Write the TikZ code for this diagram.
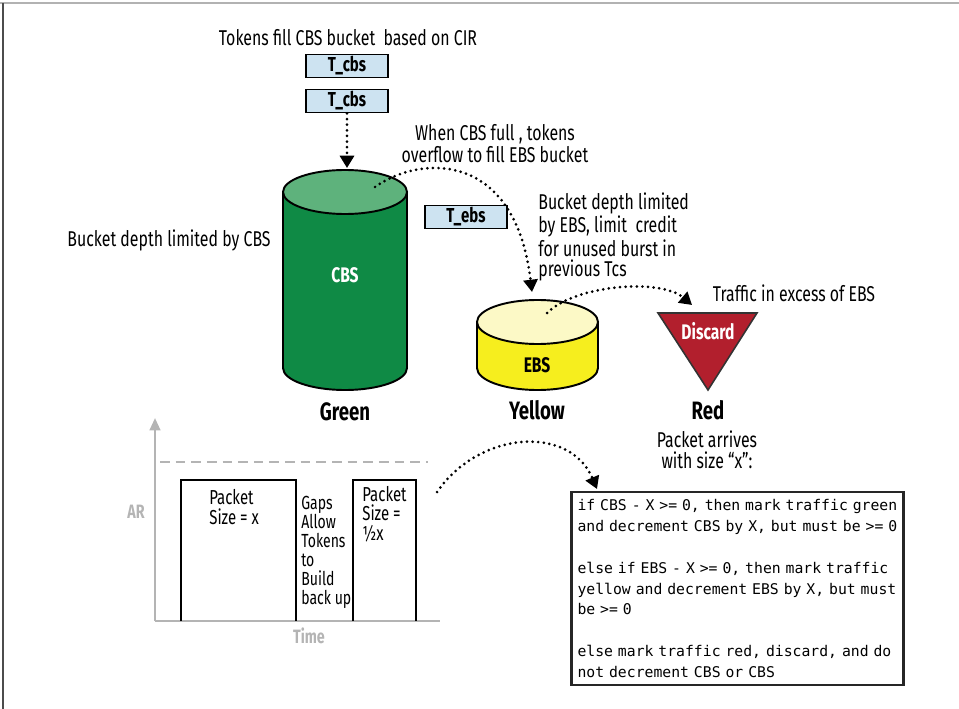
\documentclass[tikz,border=0pt]{standalone}
\usepackage{fontspec}
\setmainfont{Fira Sans}[FakeStretch=0.74]
\newfontfamily\codefont{DejaVu Sans Mono}
\usetikzlibrary{positioning,arrows.meta}

\definecolor{tokblue}{HTML}{CDE3F1}
\definecolor{cbsbody}{HTML}{0F8A45}
\definecolor{cbstop}{HTML}{5EB27C}
\definecolor{ebsbody}{HTML}{F6EE1E}
\definecolor{ebstop}{HTML}{FCF9C6}
\definecolor{discred}{HTML}{B21F2D}
\definecolor{axisgray}{HTML}{B4B4B4}

\tikzset{
  lbl/.style={align=center, inner sep=0pt, font=\fontsize{12.2}{12.5}\selectfont},
  lblleft/.style={lbl, align=left, anchor=west},
  colour/.style={inner sep=0pt, font=\bfseries\fontsize{14.3}{15}\selectfont},
  inlbl/.style={inner sep=0pt, font=\bfseries\fontsize{12}{13}\selectfont},
  token/.style={draw, line width=1.1pt, fill=tokblue, minimum width=1.64cm,
    minimum height=0.46cm, inner sep=0pt, font=\bfseries\fontsize{11.5}{12}\selectfont},
  flow/.style={line width=1.7pt, dash pattern=on 0pt off 3.2pt, line cap=round,
    -{Triangle[length=7pt,width=8pt]}},
  bucket/.style={line width=1.1pt},
  axislbl/.style={inner sep=0pt, text=axisgray, font=\bfseries\fontsize{11}{12}\selectfont},
  codebox/.style={draw=black!85, line width=1.5pt, fill=white, text width=6.4cm,
    inner xsep=0.12cm, minimum height=3.86cm, align=left,
    font=\codefont\fontsize{8.4}{11.9}\selectfont},
}

\begin{document}
\begin{tikzpicture}[x=0.02cm, y=-0.02cm]
\useasboundingbox (0,0) rectangle (959,709);
% page frame
\draw[gray!60, line width=0.8pt] (0,3) -- (959,3);
\draw[black!70, line width=0.8pt] (3,3) -- (3,709);

% token refill
\draw node (title) at (348,38) [lbl]{Tokens fill CBS bucket~ based on CIR};
\draw node (tcbsa) at (347,66) [token]{T\_cbs};
\draw node (tcbsb) at (347,101) [token]{T\_cbs};
\coordinate (cbsin) at (347,168);
\draw[flow] (tcbsb) -- (cbsin);

% CBS bucket
\fill[cbsbody] (283,192) -- (283,368) arc (180:0:62 and 22) -- (407,192) -- cycle;
\draw[bucket] (283,192) -- (283,368) arc (180:0:62 and 22) -- (407,192);
\draw[bucket, fill=cbstop] (345,192) ellipse [x radius=62, y radius=22];
\draw node (cbs) at (345,275) [inlbl, text=white]{CBS};
\draw node (green) at (345,412) [colour]{Green};
\draw node (cbsdepth) at (169,240) [lbl]{Bucket depth limited by CBS};
\draw node (overflow) at (495,144) [lbl]{When CBS full , tokens\\overflow to fill EBS bucket};

% EBS bucket
\draw node (tebs) at (466,217) [token]{T\_ebs};
\fill[ebsbody] (477,322) -- (477,368) arc (180:0:60.5 and 22) -- (598,322) -- cycle;
\draw[bucket] (477,322) -- (477,368) arc (180:0:60.5 and 22) -- (598,322);
\draw[bucket, fill=ebstop] (537.5,322) ellipse [x radius=60.5, y radius=22];
\draw node (ebs) at (537,365) [inlbl]{EBS};
\draw node (yellow) at (537,410) [colour]{Yellow};
\draw node (ebsdepth) at (538,237) [lblleft, font=\fontsize{12.2}{11.5}\selectfont]{Bucket depth limited\\by EBS, limit~ credit\\for unused burst in\\previous Tcs};

% discard
\draw[line width=0.9pt, black!80, fill=discred] (658,313) -- (757,313) -- (708,390) -- cycle;
\draw node (discard) at (708,331) [inlbl, text=white]{Discard};
\draw node (red) at (708,410) [colour]{Red};
\draw node (excess) at (794,293) [lbl]{Traffic in excess of EBS};

% overflow paths
\coordinate (cbsspill) at (375,187);
\coordinate (ebsin) at (532,292);
\draw[flow] (cbsspill) .. controls (420,155) and (515,150) .. (ebsin);
\coordinate (ebsspill) at (547,313);
\coordinate (redin) at (692,305);
\draw[flow] (ebsspill) .. controls (575,285) and (660,278) .. (redin);

% arrival rate over time
\draw[axisgray, line width=1.4pt, -{Triangle[length=7pt,width=6pt]}] (155,621) -- (155,418);
\draw[axisgray, line width=1.4pt] (155,621) -- (440,621);
\draw[axisgray, line width=1.2pt, dash pattern=on 5.5pt off 3.4pt] (160,462) -- (428,462);
\draw node (ar) at (136,512) [axislbl]{AR};
\draw node (time) at (309,636) [axislbl]{Time};
\draw[line width=1.3pt] (181,621) -- (181,480) -- (296,480) -- (296,621);
\draw[line width=1.3pt] (353,621) -- (353,480) -- (416,480) -- (416,621);
\draw node (pkta) at (209,507) [lblleft, font=\fontsize{11.5}{11.9}\selectfont]{Packet\\Size = x};
\draw node (gaps) at (301,552) [lblleft, font=\fontsize{10.8}{10.8}\selectfont]{Gaps\\Allow\\Tokens\\to\\Build\\back up};
\draw node (pktb) at (362,514) [lblleft, font=\fontsize{11.5}{11}\selectfont]{Packet\\Size =\\½x};

% marking rules
\draw node (arrives) at (707,450) [lbl, font=\fontsize{12.2}{11.9}\selectfont]{Packet arrives\\with size “x”:};
\draw node (rules) at (737.5,588.5) [codebox]{%
if CBS - X >= 0, then mark traffic green\\
and decrement CBS by X, but must be >= 0\\[11.9pt]
else if EBS - X >= 0, then mark traffic\\
yellow and decrement EBS by X, but must\\
be >= 0\\[11.9pt]
else mark traffic red, discard, and do\\
not decrement CBS or CBS};
\coordinate (burst) at (437,492);
\coordinate (rulesin) at (597,489);
\draw[flow] (burst) .. controls (480,430) and (570,425) .. (rulesin);
\end{tikzpicture}
\end{document}
